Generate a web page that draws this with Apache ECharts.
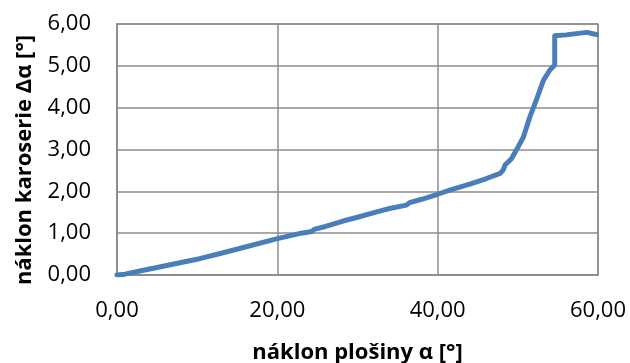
<!DOCTYPE html>
<html><head><meta charset="utf-8">
<script src="https://cdn.jsdelivr.net/npm/echarts@6/dist/echarts.min.js"></script>
<style>html,body{margin:0;padding:0;background:#fff}#c{width:630px;height:363px}</style>
</head><body><div id="c"></div>
<script>
var xVals = [0, 1, 3, 5, 8, 10.3, 13, 16, 20, 23, 24.3, 24.6, 26, 28.2, 30, 32.4, 34, 36.1, 36.5, 38, 40, 41.5, 44, 46, 47.8, 48.2, 48.4, 49.2, 49.8, 50.7, 51.5, 52.3, 53.2, 54.0, 54.6, 54.6, 56, 58.6, 59.8];
var yVals = [0, 0.02, 0.10, 0.18, 0.30, 0.39, 0.52, 0.67, 0.87, 1.00, 1.04, 1.09, 1.16, 1.29, 1.38, 1.51, 1.59, 1.67, 1.73, 1.81, 1.93, 2.03, 2.17, 2.30, 2.43, 2.52, 2.63, 2.78, 2.98, 3.30, 3.78, 4.18, 4.66, 4.90, 5.02, 5.72, 5.74, 5.80, 5.75];
var xTitle = 'náklon plošiny α [°]';
var yTitle = 'náklon karoserie Δα [°]';
var data = xVals.map(function(x, i){ return [x, yVals[i]]; });
var fmt = function(v){ return v.toFixed(2).replace('.', ','); };
var font = 'Open Sans';
var grey = '#8c8c8c';
var chart = echarts.init(document.getElementById('c'));
chart.setOption({
  animation: false,
  grid: {left: 117, right: 32, top: 24, bottom: 88, show: true, borderColor: grey, borderWidth: 1.5,
         containLabel: false, outerBoundsMode: 'none'},
  xAxis: {
    type: 'value', min: 0, max: 60, interval: 20,
    name: xTitle, nameLocation: 'middle', nameGap: 67,
    nameTextStyle: {fontFamily: font, fontWeight: 'bold', fontSize: 22, color: '#000'},
    axisLine: {show: true, lineStyle: {color: grey, width: 1.5}},
    axisTick: {show: false},
    axisLabel: {formatter: fmt, fontFamily: font, fontSize: 22, color: '#000', margin: 25},
    splitLine: {show: true, lineStyle: {color: grey, width: 1.5}}
  },
  yAxis: {
    type: 'value', min: 0, max: 6, interval: 1,
    name: yTitle, nameLocation: 'middle', nameGap: 81,
    nameTextStyle: {fontFamily: font, fontWeight: 'bold', fontSize: 22, color: '#000', padding: [0, 21, 0, 0]},
    axisLine: {show: true, lineStyle: {color: grey, width: 1.5}},
    axisTick: {show: false},
    axisLabel: {formatter: fmt, fontFamily: font, fontSize: 22, color: '#000', margin: 26},
    splitLine: {show: true, lineStyle: {color: grey, width: 1.5}}
  },
  series: [{
    type: 'line', data: data, showSymbol: false, smooth: false,
    lineStyle: {color: '#4a7ebb', width: 5, cap: 'round', join: 'round'}
  }]
});
</script></body></html>
